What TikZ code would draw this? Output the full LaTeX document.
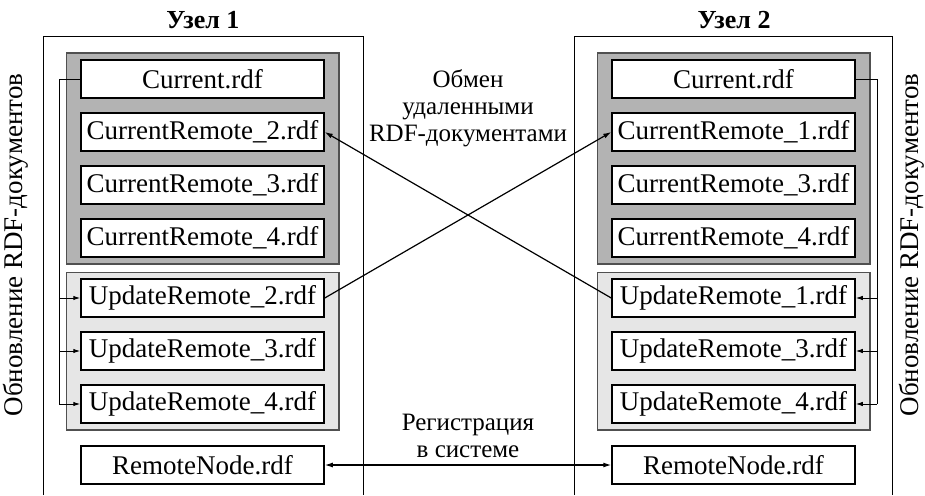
\documentclass[tikz,border=0pt]{standalone}
\usepackage{fontspec}
\setmainfont{Liberation Serif}
\usetikzlibrary{arrows.meta, positioning, fit, backgrounds}
\definecolor{curfill}{RGB}{179,179,179}
\definecolor{updfill}{RGB}{230,230,230}
\definecolor{groupdraw}{RGB}{80,80,80}
\tikzset{
    file/.style={
        rectangle,
        draw=black,
        line width=1.5pt,
        fill=white,
        minimum width=243pt,
        minimum height=38pt,
        inner sep=0pt,
        font=\fontsize{27}{29}\selectfont
    },
    curgroup/.style={
        rectangle,
        draw=groupdraw,
        line width=1.5pt,
        fill=curfill,
        inner xsep=14pt,
        inner ysep=6pt
    },
    updgroup/.style={
        curgroup,
        fill=updfill
    },
    hostframe/.style={
        draw=black,
        line width=1pt
    },
    title/.style={
        font=\fontsize{26}{28}\selectfont\bfseries
    },
    note/.style={
        align=center,
        font=\fontsize{25}{27}\selectfont
    },
    sidenote/.style={
        rotate=90,
        font=\fontsize{27}{29}\selectfont
    },
    connection/.style={
        draw=black,
        line width=1.2pt,
        -{Latex[length=8pt,width=5pt]}
    },
    feed/.style={
        draw=black,
        line width=1pt,
        -{Latex[length=7pt,width=4.5pt]}
    }
}

\begin{document}
\begin{tikzpicture}[x=1pt, y=-1pt]
\useasboundingbox (0,0) rectangle (925,495);

% Host 1
\draw[hostframe] (43,495) |- (363,37) -- (363,495);
\node[title] (host1) at (203,20) {Узел 1};
\node[file] (cur1) at (202.5,79) {Current.rdf};
\node[file] (crem12) at (202.5,132) {CurrentRemote\_2.rdf};
\node[file] (crem13) at (202.5,185) {CurrentRemote\_3.rdf};
\node[file] (crem14) at (202.5,238) {CurrentRemote\_4.rdf};
\node[file] (urem12) at (202.5,298) {UpdateRemote\_2.rdf};
\node[file] (urem13) at (202.5,351) {UpdateRemote\_3.rdf};
\node[file] (urem14) at (202.5,404) {UpdateRemote\_4.rdf};
\node[file] (rnode1) at (202.5,465) {RemoteNode.rdf};

% Host 2
\draw[hostframe] (574,495) |- (892,37) -- (892,495);
\node[title] (host2) at (734,20) {Узел 2};
\node[file] (cur2) at (733.5,79) {Current.rdf};
\node[file] (crem21) at (733.5,132) {CurrentRemote\_1.rdf};
\node[file] (crem23) at (733.5,185) {CurrentRemote\_3.rdf};
\node[file] (crem24) at (733.5,238) {CurrentRemote\_4.rdf};
\node[file] (urem21) at (733.5,298) {UpdateRemote\_1.rdf};
\node[file] (urem23) at (733.5,351) {UpdateRemote\_3.rdf};
\node[file] (urem24) at (733.5,404) {UpdateRemote\_4.rdf};
\node[file] (rnode2) at (733.5,465) {RemoteNode.rdf};

% Groups
\begin{scope}[on background layer]
\node[curgroup, fit=(cur1)(crem14)] (curset1) {};
\node[updgroup, fit=(urem12)(urem14)] (updset1) {};
\node[curgroup, fit=(cur2)(crem24)] (curset2) {};
\node[updgroup, fit=(urem21)(urem24)] (updset2) {};
\end{scope}

% Local update
\coordinate (bus1) at (59,0);
\coordinate (bus2) at (877,0);
\draw[hostframe] (cur1.west) -| (bus1 |- urem14);
\draw[hostframe] (cur2.east) -| (bus2 |- urem24);
\foreach \n in {12,13,14} {
    \draw[feed] (bus1 |- urem\n) -- (urem\n.west);
}
\foreach \n in {21,23,24} {
    \draw[feed] (bus2 |- urem\n) -- (urem\n.east);
}
\node[sidenote] (upd1) at (16,245) {Обновление RDF-документов};
\node[sidenote] (upd2) at (912,245) {Обновление RDF-документов};

% Exchange
\draw[connection] (urem12.east) -- (crem21.west);
\draw[connection] (urem21.west) -- (crem12.east);
\node[note] (exchange) at (468,108) {Обмен\\удаленными\\RDF-документами};

% Registration
\draw[connection, {Latex[length=8pt,width=5pt]}-{Latex[length=8pt,width=5pt]}] (rnode1) -- (rnode2);
\node[note] (register) at (468,436) {Регистрация\\в системе};

\end{tikzpicture}
\end{document}
